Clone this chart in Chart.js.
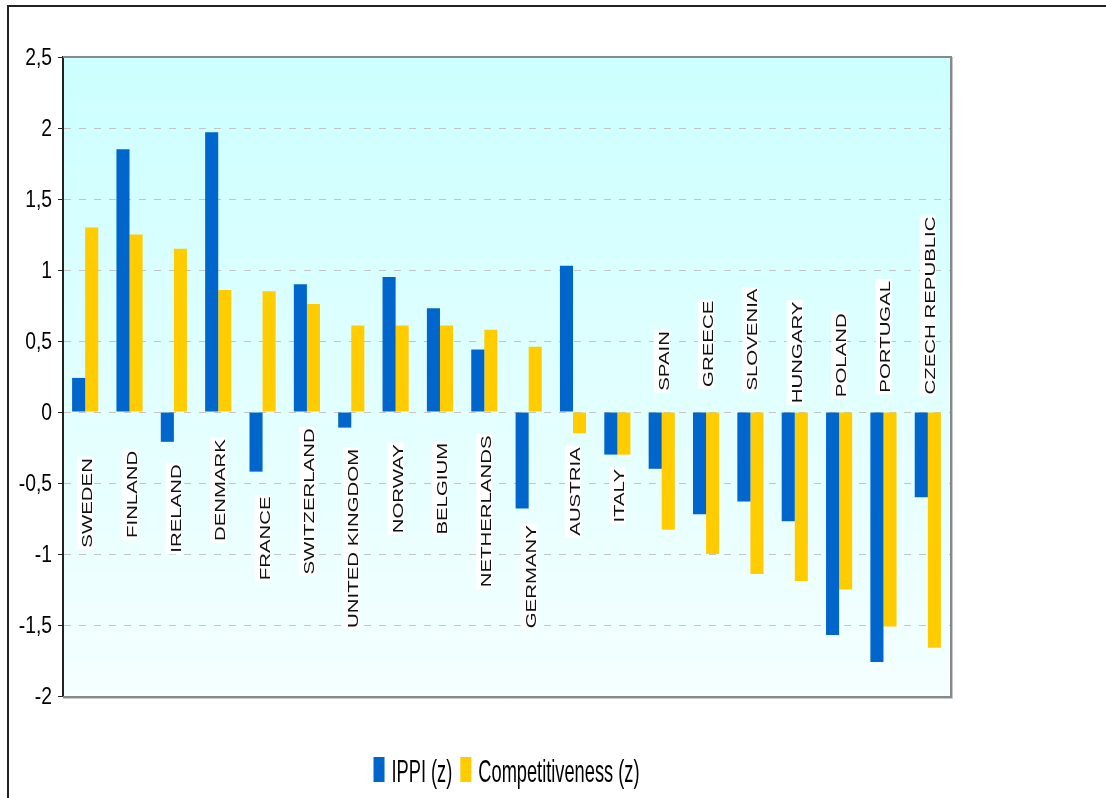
<!DOCTYPE html>
<html>
<head>
<meta charset="utf-8">
<script src="https://cdn.jsdelivr.net/npm/chart.js@4/dist/chart.umd.min.js"></script>
<style>
  html, body { margin: 0; padding: 0; background: #fff; }
  #wrap { width: 1106px; height: 798px; }
</style>
</head>
<body>
<div id="wrap"><canvas id="chart" width="1106" height="798"></canvas></div>
<script>
  const countries = [
    "SWEDEN", "FINLAND", "IRELAND", "DENMARK", "FRANCE", "SWITZERLAND", "UNITED KINGDOM",
    "NORWAY", "BELGIUM", "NETHERLANDS", "GERMANY", "AUSTRIA", "ITALY", "SPAIN", "GREECE",
    "SLOVENIA", "HUNGARY", "POLAND", "PORTUGAL", "CZECH REPUBLIC",
  ];
  const ippi = [0.24, 1.85, -0.21, 1.97, -0.42, 0.90, -0.11, 0.95, 0.73, 0.44,
                -0.68, 1.03, -0.30, -0.40, -0.72, -0.63, -0.77, -1.57, -1.76, -0.60];
  const competitiveness = [1.30, 1.25, 1.15, 0.86, 0.85, 0.76, 0.61, 0.61, 0.61, 0.58,
                           0.46, -0.15, -0.30, -0.83, -1.00, -1.14, -1.19, -1.25, -1.51, -1.66];
  // where each country name sits, in axis units (middle of the rotated label)
  const labelMid = [-0.64, -0.58, -0.68, -0.55, -0.89, -0.63, -0.89, -0.54, -0.54, -0.70,
                    -1.16, -0.56, -0.59, 0.36, 0.48, 0.51, 0.42, 0.40, 0.53, 0.75];
  const yTickLabels = ["-2", "-1,5", "-1", "-0,5", "0", "0,5", "1", "1,5", "2", "2,5"];

  const BLUE = "#0066cc";
  const YELLOW = "#ffcc00";
  const FONT = '"Liberation Sans", Arial, sans-serif';

  // background gradient, axis numbers, rotated country names, borders and the legend
  const decorations = {
    id: "decorations",
    beforeDraw(chart) {
      const { ctx, chartArea: a } = chart;
      const g = ctx.createLinearGradient(0, a.top, 0, a.bottom);
      g.addColorStop(0, "#ccffff");
      g.addColorStop(1, "#f5ffff");
      ctx.save();
      ctx.fillStyle = g;
      ctx.fillRect(a.left, a.top, a.width, a.height);
      ctx.restore();
    },
    afterDatasetsDraw(chart) {
      const { ctx } = chart;
      const xs = chart.scales.x, ys = chart.scales.y;
      const stretch = 1.36;
      ctx.save();
      ctx.font = "15px " + FONT;
      countries.forEach((name, i) => {
        const x = xs.getPixelForValue(i);
        const y = ys.getPixelForValue(labelMid[i]);
        const w = ctx.measureText(name).width;
        ctx.save();
        ctx.translate(x, y);
        ctx.rotate(-Math.PI / 2);
        ctx.scale(stretch, 1);
        const pad = 1.6 / stretch;
        ctx.fillStyle = "#ffffff";
        ctx.fillRect(-w / 2 - pad, -8, w + 2 * pad, 16);
        ctx.fillStyle = "#111";
        ctx.textAlign = "center";
        ctx.textBaseline = "alphabetic";
        ctx.fillText(name, 0, 7);
        ctx.restore();
      });
      ctx.restore();
    },
    afterDraw(chart) {
      const { ctx, chartArea: a } = chart;
      const ys = chart.scales.y;
      ctx.save();

      // narrow axis numbers
      ctx.font = "23px " + FONT;
      ctx.fillStyle = "#000";
      ctx.textAlign = "right";
      ctx.textBaseline = "middle";
      ys.ticks.forEach((t, i) => {
        const y = ys.getPixelForValue(t.value);
        ctx.save();
        ctx.translate(52, y + 1.5);
        ctx.scale(0.84, 1);
        ctx.fillText(yTickLabels[i], 0, 0);
        ctx.restore();
      });

      // plot border with a faint shadow
      ctx.strokeStyle = "#c8c8c8";
      ctx.lineWidth = 1;
      ctx.beginPath();
      ctx.moveTo(a.right + 2.5, a.top);
      ctx.lineTo(a.right + 2.5, a.bottom + 2.5);
      ctx.lineTo(a.left, a.bottom + 2.5);
      ctx.stroke();
      ctx.strokeStyle = "#888";
      ctx.lineWidth = 2;
      ctx.beginPath();
      ctx.moveTo(a.left, a.top);
      ctx.lineTo(a.right + 1, a.top);
      ctx.lineTo(a.right + 1, a.bottom + 1);
      ctx.lineTo(a.left, a.bottom + 1);
      ctx.stroke();

      // outer frame, left and top
      ctx.fillStyle = "#222";
      ctx.fillRect(7, 5, 2, 793);
      ctx.fillRect(7, 5, 1099, 2);

      // legend
      const sx = 0.57;
      ctx.font = "32px " + FONT;
      ctx.textAlign = "left";
      ctx.textBaseline = "alphabetic";
      const items = chart.data.datasets.map(ds => ({
        label: ds.label, color: ds.backgroundColor,
        w: ctx.measureText(ds.label).width * sx,
      }));
      const box = 11, gapIn = 7, gapOut = 8;
      const total = items.reduce((s, it) => s + box + gapIn + it.w, 0) + gapOut * (items.length - 1);
      let x = (a.left + a.right) / 2 - total / 2;
      const base = a.bottom + 85.5;
      items.forEach(it => {
        ctx.fillStyle = it.color;
        ctx.fillRect(x, base - 24.5, box, 25);
        x += box + gapIn;
        ctx.save();
        ctx.translate(x, base);
        ctx.scale(sx, 1);
        ctx.fillStyle = "#000";
        ctx.fillText(it.label, 0, 0);
        ctx.restore();
        x += it.w + gapOut;
      });
      ctx.restore();
    },
  };

  new Chart(document.getElementById("chart"), {
    type: "bar",
    data: {
      labels: countries,
      datasets: [
        { label: "IPPI (z)", data: ippi, backgroundColor: BLUE },
        { label: "Competitiveness (z)", data: competitiveness, backgroundColor: YELLOW },
      ],
    },
    options: {
      responsive: false,
      animation: false,
      devicePixelRatio: 1,
      layout: { padding: { left: 0, top: 57, right: 156, bottom: 102 } },
      datasets: { bar: { categoryPercentage: 0.59, barPercentage: 1.0, borderWidth: 0 } },
      plugins: { legend: { display: false }, tooltip: { enabled: false } },
      scales: {
        x: { display: false },
        y: {
          min: -2,
          max: 2.5,
          afterFit(scale) { scale.width = 63; },
          ticks: { stepSize: 0.5, display: false },
          grid: { color: "#c4c4c4", lineWidth: 1, tickLength: 5, tickColor: "#222", tickBorderDash: [] },
          border: { display: true, color: "#222", width: 2, dash: [7, 8] },
        },
      },
    },
    plugins: [decorations],
  });
</script>
</body>
</html>
